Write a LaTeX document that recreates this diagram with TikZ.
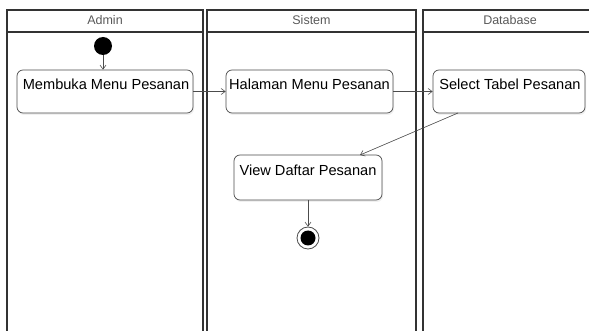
\documentclass[tikz,border=0pt]{standalone}
\usepackage{fontspec}
\setmainfont{Liberation Sans}
\usetikzlibrary{arrows.meta,shadows}
\begin{document}
\begin{tikzpicture}[x=1pt,y=-1pt,
  lane/.style={draw=black!80,line width=1.6pt},
  lanetitle/.style={font=\fontsize{12.5}{14}\selectfont,text=black!65,inner sep=0pt},
  actbox/.style={draw=black!70,line width=0.7pt,rounded corners=6pt,fill=white,
    drop shadow={opacity=0.12,shadow xshift=1pt,shadow yshift=-2pt},
    inner sep=0pt},
  acttext/.style={font=\fontsize{14.6}{16}\selectfont,inner sep=0pt},
  flow/.style={draw=black!70,line width=0.6pt,-{Straight Barb[length=4pt,width=6pt]}},
  initnode/.style={circle,fill=black,minimum size=18pt,inner sep=0pt},
  finalnode/.style={circle,draw=black!70,line width=0.8pt,fill=white,minimum size=22pt,inner sep=0pt},
]
\useasboundingbox (0,0) rectangle (589,331);

% swimlanes
\draw[lane] (7,331) -- (7,10) -- (203,10) -- (203,331);
\draw[lane] (7,32) -- (203,32);
\draw[lane] (207,331) -- (207,10) -- (416,10) -- (416,331);
\draw[lane] (207,32) -- (416,32);
\draw[lane] (423,331) -- (423,10) -- (600,10);
\draw[lane] (423,32) -- (600,32);
\node[lanetitle] (tAdmin) at (105,20) {Admin};
\node[lanetitle] (tSistem) at (311.5,20) {Sistem};
\node[lanetitle] (tDb) at (510,20) {Database};

% activity boxes
\node[actbox,minimum width=176pt,minimum height=43pt] (b1) at (105,91.5) {};
\node[actbox,minimum width=167pt,minimum height=43pt] (b2) at (309.5,91.5) {};
\node[actbox,minimum width=152pt,minimum height=43pt] (b3) at (509,91.5) {};
\node[actbox,minimum width=148pt,minimum height=45pt] (b4) at (308,177.5) {};
\node[acttext] (l1) at (106,84) {Membuka Menu Pesanan};
\node[acttext] (l2) at (309.5,84) {Halaman Menu Pesanan};
\node[acttext] (l3) at (510,84) {Select Tabel Pesanan};
\node[acttext] (l4) at (308,170) {View Daftar Pesanan};

% start and end
\node[initnode] (start) at (103,46) {};
\node[finalnode] (stop) at (308,238) {};
\node[circle,fill=black,minimum size=15pt,inner sep=0pt] (stopdot) at (stop) {};

% control flow
\draw[flow] (start) -- (start|-b1.north);
\draw[flow] (b1) -- (b2);
\draw[flow] (b2) -- (b3);
\coordinate (b3out) at (458,113);
\coordinate (b4in) at (360,155);
\draw[flow] (b3out) -- (b4in);
\draw[flow] (b4) -- (stop);
\end{tikzpicture}
\end{document}
